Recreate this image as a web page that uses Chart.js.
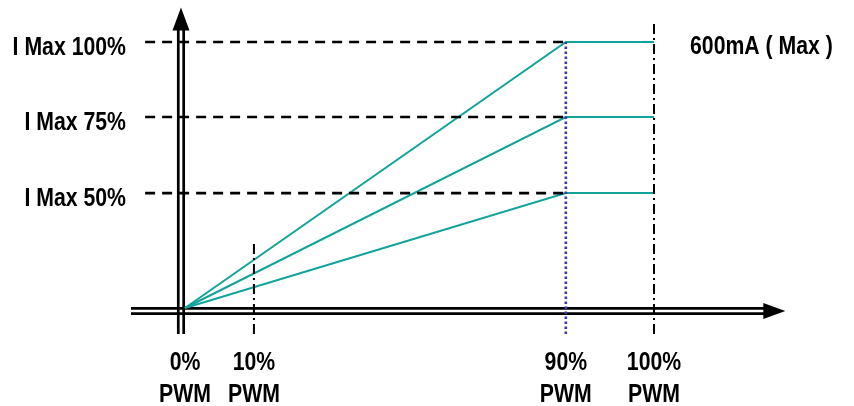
<!DOCTYPE html>
<html>
<head>
<meta charset="utf-8">
<script src="https://cdn.jsdelivr.net/npm/chart.js@4/dist/chart.umd.min.js"></script>
<style>
	html, body { margin: 0; padding: 0; background: #fff; }
	#wrap { width: 854px; height: 406px; }
</style>
</head>
<body>
<div id="wrap"><canvas id="pwmChart" width="854" height="406"></canvas></div>
<script>
// PWM 축 (그림은 비율대로 그려지지 않았으므로 축 위의 위치를 따로 둠)
const pwmLabels = ['0%', '10%', '90%', '100%'];
const pwmPos = [0, 14.7, 81.2, 100];

// 전류 상한 3단계 (축 위의 높이)
const levelLabels = ['I Max 50%', 'I Max 75%', 'I Max 100%'];
const levelPos = [43.2, 71.8, 100];

const maxNote = '600mA ( Max )';

// 보조선 범위
const guideStart = -8.5;    // 점선 가로 보조선 시작
const guideFoot = -9.8;     // 세로 보조선 아래 끝
const tenTop = 25.6;        // 10% 세로선 위 끝
const hundredTop = 108.3;   // 100% 세로선 위 끝
const xAxisEnd = 128;       // x축 화살표 끝
const yAxisEnd = 113;       // y축 화살표 끝

const TEAL = '#12a39a';
const FONT = "bold 25px 'Liberation Sans', Arial, sans-serif";
const NARROW = 0.85;   // 원본은 Arial Narrow 계열이라 가로로 좁힘

document.addEventListener('DOMContentLoaded', function() {
	initPwmChart();
});

function seg(points, color, width, dash) {
	return {
		data: points,
		borderColor: color,
		borderWidth: width,
		borderDash: dash || [],
		pointRadius: 0,
		tension: 0,
		clip: false,
		fill: false
	};
}

// 좁은 글꼴 흉내: 가로만 줄여서 그리기
function narrowText(ctx, text, x, y, align) {
	ctx.save();
	ctx.translate(x, y);
	ctx.scale(NARROW, 1);
	ctx.textAlign = align;
	ctx.textBaseline = 'alphabetic';
	ctx.fillText(text, 0, 0);
	ctx.restore();
}

/**
 * 두 줄 축 + 화살표 + 글자
 */
const axesPlugin = {
	id: 'axes',
	beforeDatasetsDraw: function(chart) {
		const ctx = chart.ctx;
		const xs = chart.scales.x, ys = chart.scales.y;
		const vx = xs.getPixelForValue(0) - 4;
		const hy = ys.getPixelForValue(0) + 3;
		const xEnd = xs.getPixelForValue(xAxisEnd);
		const yEnd = ys.getPixelForValue(yAxisEnd);
		const yFoot = ys.getPixelForValue(guideFoot);
		ctx.save();
		ctx.strokeStyle = '#000';
		ctx.fillStyle = '#000';
		ctx.lineWidth = 2.7;
		ctx.beginPath();
		// 가로축 두 줄
		ctx.moveTo(chart.chartArea.left, hy - 2.7); ctx.lineTo(xEnd - 20, hy - 2.7);
		ctx.moveTo(chart.chartArea.left, hy + 2.7); ctx.lineTo(xEnd - 20, hy + 2.7);
		// 세로축 두 줄
		ctx.moveTo(vx - 2.7, yFoot); ctx.lineTo(vx - 2.7, yEnd + 20);
		ctx.moveTo(vx + 2.7, yFoot); ctx.lineTo(vx + 2.7, yEnd + 20);
		ctx.stroke();
		// 화살표
		ctx.beginPath();
		ctx.moveTo(xEnd, hy); ctx.lineTo(xEnd - 22, hy - 8); ctx.lineTo(xEnd - 22, hy + 8); ctx.closePath();
		ctx.moveTo(vx, yEnd); ctx.lineTo(vx - 8.5, yEnd + 23); ctx.lineTo(vx + 8.5, yEnd + 23); ctx.closePath();
		ctx.fill();
		ctx.restore();
	},
	afterDatasetsDraw: function(chart) {
		const ctx = chart.ctx;
		const xs = chart.scales.x, ys = chart.scales.y;
		const bottom = chart.chartArea.bottom;
		ctx.save();
		ctx.fillStyle = '#000';
		ctx.font = FONT;
		// y축 레벨 이름
		levelPos.forEach(function(l, i) {
			narrowText(ctx, levelLabels[i], chart.chartArea.left - 5, ys.getPixelForValue(l) + 12.5, 'right');
		});
		// x축 PWM 이름 (두 줄)
		pwmPos.forEach(function(p, i) {
			const px = xs.getPixelForValue(p);
			narrowText(ctx, pwmLabels[i], px, bottom + 30, 'center');
			narrowText(ctx, 'PWM', px, bottom + 62, 'center');
		});
		narrowText(ctx, maxNote, xs.getPixelForValue(pwmPos[3]) + 36, ys.getPixelForValue(levelPos[2]) + 12, 'left');
		ctx.restore();
	}
};

function initPwmChart() {
	const ramp = pwmPos[2], flat = pwmPos[3];
	const datasets = [];

	// 레벨 점선
	levelPos.forEach(function(l) {
		datasets.push(seg([{ x: guideStart, y: l }, { x: ramp, y: l }], '#000', 2.7, [10, 7]));
	});
	// 세로 보조선
	datasets.push(seg([{ x: pwmPos[1], y: guideFoot }, { x: pwmPos[1], y: tenTop }], '#000', 2, [10, 4, 2, 4]));
	datasets.push(seg([{ x: flat, y: guideFoot }, { x: flat, y: hundredTop }], '#000', 2, [10, 4, 2, 4]));
	datasets.push(seg([{ x: ramp, y: guideFoot }, { x: ramp, y: levelPos[2] }], '#3a3aa8', 2.6, [2.5, 2.5]));
	// 전류 곡선
	levelPos.forEach(function(l) {
		datasets.push(seg([{ x: pwmPos[0], y: 0 }, { x: ramp, y: l }, { x: flat, y: l }], TEAL, 2));
	});

	new Chart(document.getElementById('pwmChart'), {
		type: 'line',
		data: { datasets: datasets },
		plugins: [axesPlugin],
		options: {
			responsive: false,
			animation: false,
			layout: { padding: { left: 131, bottom: 66, top: 0, right: 0 } },
			plugins: { legend: { display: false }, tooltip: { enabled: false } },
			scales: {
				x: { type: 'linear', display: false, min: -11.51, max: 142.64 },
				y: { type: 'linear', display: false, min: -12.03, max: 115.79 }
			}
		}
	});
}
</script>
</body>
</html>
